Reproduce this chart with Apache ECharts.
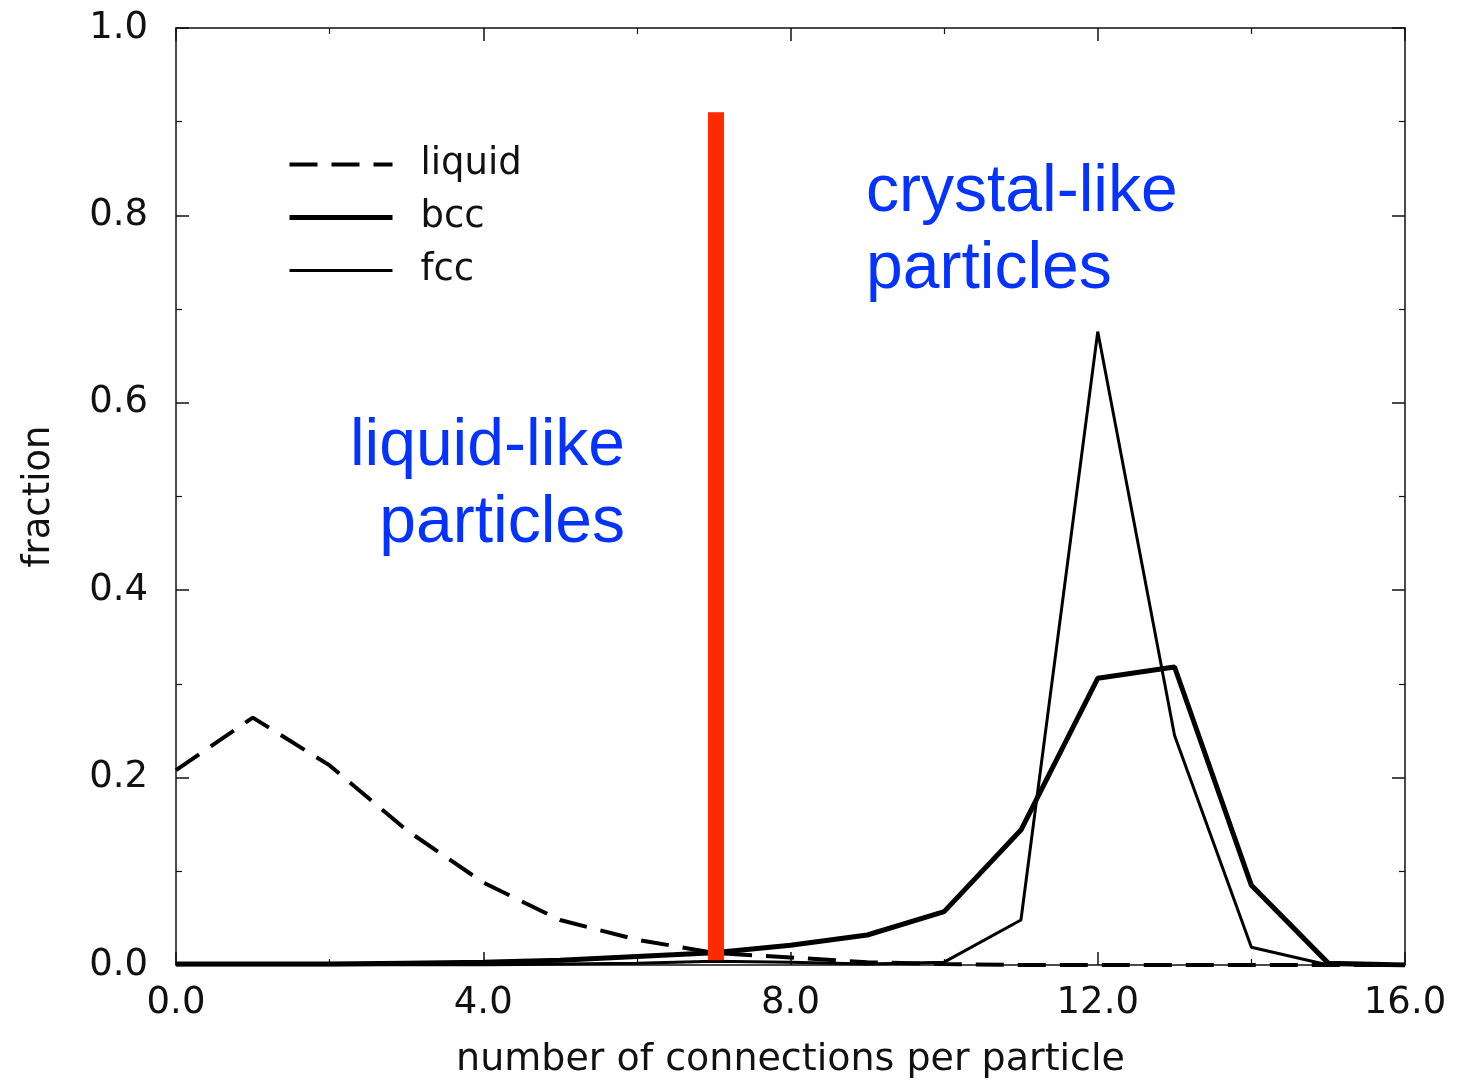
<!DOCTYPE html>
<html>
<head>
<meta charset="utf-8">
<title>Connections per particle</title>
<script src="https://cdn.jsdelivr.net/npm/echarts@6/dist/echarts.min.js"></script>
<style>
  html, body { margin: 0; padding: 0; background: #ffffff; }
  #chart { width: 1460px; height: 1081px; }
</style>
</head>
<body>
<div id="chart"></div>
<script>
// Number of connections per particle (0 .. 16)
const connections = [0, 1, 2, 3, 4, 5, 6, 7, 8, 9, 10, 11, 12, 13, 14, 15, 16];

// Fraction of particles with a given number of connections
const liquidFraction = [0.208, 0.264, 0.213, 0.144, 0.088, 0.048, 0.027, 0.013, 0.008, 0.003, 0.001, 0, 0, 0, 0, 0, 0];
const bccFraction    = [0.001, 0.001, 0.001, 0.002, 0.003, 0.005, 0.009, 0.013, 0.021, 0.032, 0.057, 0.144, 0.306, 0.318, 0.085, 0.002, 0];
const fccFraction    = [0, 0, 0, 0, 0, 0.001, 0.002, 0.004, 0.003, 0.001, 0.003, 0.048, 0.676, 0.245, 0.019, 0, 0];

// Threshold separating liquid-like from crystal-like particles
const thresholdX = 7.03;
const thresholdRange = [0.005, 0.91];

// Axis ticks
const xTicks = { min: 0, max: 16, interval: 4 };
const yTicks = { min: 0, max: 1, interval: 0.2 };

const seriesNames = ['liquid', 'bcc', 'fcc'];

const pairs = (ys) => connections.map((x, i) => [x, ys[i]]);

const scanFont = 'DejaVu Sans';
const axisColor = '#111';

// line styles shared by the curves and their legend entries
const styles = {
  liquid: { color: '#000', width: 4, type: [28, 14], cap: 'butt' },
  bcc:    { color: '#000', width: 5, type: 'solid' },
  fcc:    { color: '#000', width: 3, type: 'solid' }
};

const chart = echarts.init(document.getElementById('chart'), null, { renderer: 'canvas' });

const baseAxis = {
  axisLine: { show: true, onZero: false, lineStyle: { color: axisColor, width: 1.5 } },
  axisTick: { show: true, inside: true, length: 13, lineStyle: { color: axisColor, width: 1.5 } },
  minorTick: { show: true, splitNumber: 2, length: 6, lineStyle: { color: axisColor, width: 1.2 } },
  splitLine: { show: false },
  minorSplitLine: { show: false }
};

chart.setOption({
  animation: false,
  backgroundColor: '#ffffff',
  grid: { left: 176, right: 55, top: 28, bottom: 116, containLabel: false, outerBoundsMode: 'none' },
  legend: {
    data: seriesNames.map((n) => ({ name: n, lineStyle: Object.assign({}, styles[n]) })),
    orient: 'vertical',
    left: 287,
    top: 146,
    padding: 0,
    itemWidth: 103,
    itemHeight: 20,
    itemGap: 16,
    selectedMode: false,
    itemStyle: { opacity: 0 },
    textStyle: { fontFamily: scanFont, fontSize: 37, lineHeight: 20, color: '#111', padding: [0, 0, 0, 23] }
  },
  xAxis: [
    Object.assign({}, baseAxis, {
      type: 'value',
      position: 'bottom',
      min: xTicks.min, max: xTicks.max, interval: xTicks.interval,
      name: 'number of connections per particle',
      nameLocation: 'middle',
      nameGap: 76,
      nameTextStyle: { fontFamily: scanFont, fontSize: 38, color: '#111' },
      axisLabel: {
        margin: 20,
        fontFamily: scanFont, fontSize: 37, color: '#111',
        formatter: (v) => v.toFixed(1)
      }
    }),
    Object.assign({}, baseAxis, {
      type: 'value',
      position: 'top',
      min: xTicks.min, max: xTicks.max, interval: xTicks.interval,
      axisLabel: { show: false }
    })
  ],
  yAxis: [
    Object.assign({}, baseAxis, {
      type: 'value',
      position: 'left',
      min: yTicks.min, max: yTicks.max, interval: yTicks.interval,
      name: 'fraction',
      nameLocation: 'middle',
      nameGap: 118,
      nameTextStyle: { fontFamily: scanFont, fontSize: 37, color: '#111' },
      axisLabel: {
        margin: 28,
        fontFamily: scanFont, fontSize: 37, color: '#111',
        formatter: (v) => v.toFixed(1)
      }
    }),
    Object.assign({}, baseAxis, {
      type: 'value',
      position: 'right',
      min: yTicks.min, max: yTicks.max, interval: yTicks.interval,
      axisLabel: { show: false }
    })
  ],
  series: [
    {
      name: 'liquid',
      type: 'line',
      data: pairs(liquidFraction),
      symbol: 'none',
      z: 3,
      itemStyle: { color: '#000' },
      lineStyle: styles.liquid
    },
    {
      name: 'bcc',
      type: 'line',
      data: pairs(bccFraction),
      symbol: 'none',
      z: 3,
      itemStyle: { color: '#000' },
      lineStyle: styles.bcc
    },
    {
      name: 'fcc',
      type: 'line',
      data: pairs(fccFraction),
      symbol: 'none',
      z: 3,
      itemStyle: { color: '#000' },
      lineStyle: styles.fcc
    },
    {
      name: 'threshold',
      type: 'line',
      data: [[thresholdX, thresholdRange[0]], [thresholdX, thresholdRange[1]]],
      symbol: 'none',
      z: 4,
      silent: true,
      itemStyle: { color: '#ff2a00' },
      lineStyle: { color: '#ff2a00', width: 16, cap: 'butt' }
    }
  ],
  graphic: [
    {
      type: 'text', right: 1460 - 625, top: 414, silent: true,
      style: { text: 'liquid-like', fontFamily: 'Liberation Sans', fontSize: 66, fill: '#0433ff', textAlign: 'right' }
    },
    {
      type: 'text', right: 1460 - 625, top: 491, silent: true,
      style: { text: 'particles', fontFamily: 'Liberation Sans', fontSize: 66, fill: '#0433ff', textAlign: 'right' }
    },
    {
      type: 'text', left: 866, top: 160, silent: true,
      style: { text: 'crystal-like', fontFamily: 'Liberation Sans', fontSize: 66, fill: '#0433ff' }
    },
    {
      type: 'text', left: 866, top: 237, silent: true,
      style: { text: 'particles', fontFamily: 'Liberation Sans', fontSize: 66, fill: '#0433ff' }
    }
  ]
});
</script>
</body>
</html>
